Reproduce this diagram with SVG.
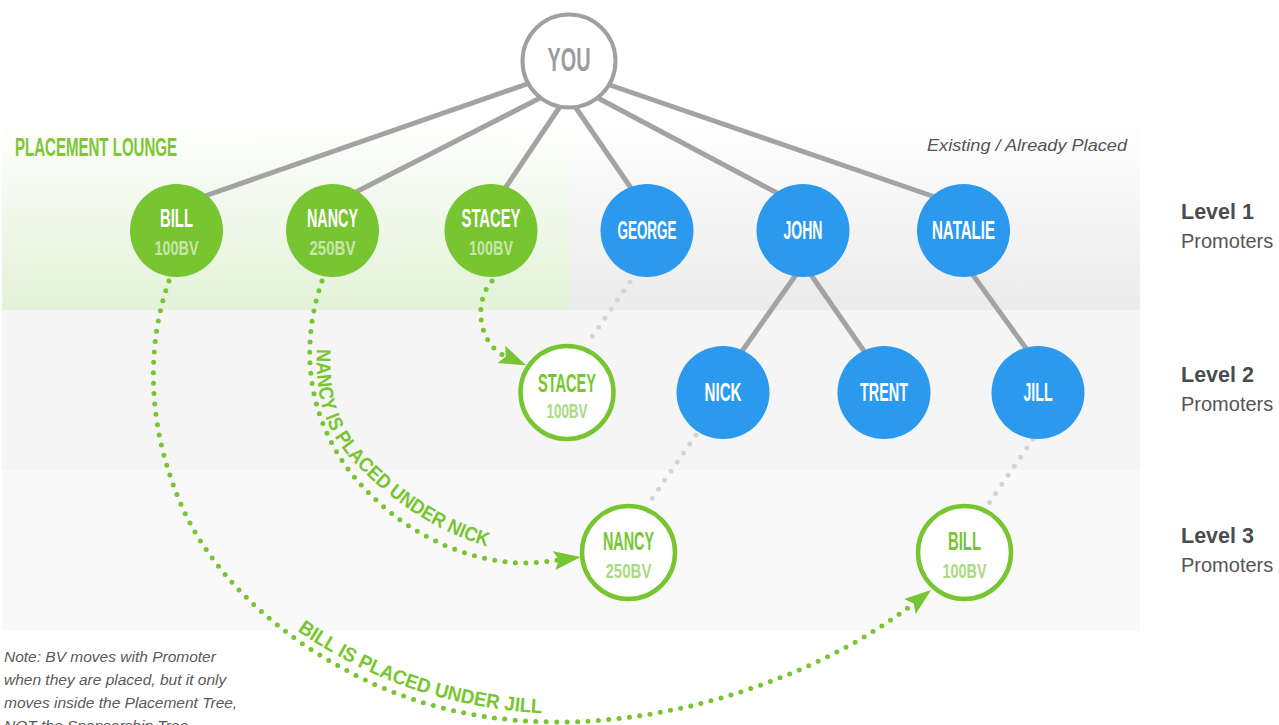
<svg xmlns="http://www.w3.org/2000/svg" width="1279" height="725" viewBox="0 0 1279 725">
<defs>
<linearGradient id="gGrey" x1="0" y1="0" x2="0" y2="1"><stop offset="0" stop-color="#ffffff"/><stop offset="1" stop-color="#ebebeb"/></linearGradient>
<linearGradient id="gGreen" x1="0" y1="0" x2="0" y2="1"><stop offset="0" stop-color="#ffffff"/><stop offset="1" stop-color="#e3f2d8"/></linearGradient>
<marker id="arrow" markerUnits="userSpaceOnUse" viewBox="0 0 30 22" markerWidth="30" markerHeight="22" refX="4" refY="11" orient="auto"><path d="M27,11 L0,1.5 L5,11 L0,20.5 Z" fill="#77c531"/></marker>
<path id="tpNancy" d="M318,330 C313,385 320,425 352,460 C392,503 440,535 500,550"/>
<path id="tpBill" d="M285,622 C360,677 447,711 560,714"/>
</defs>
<style>
.solid{stroke:#a3a3a3;stroke-width:5;fill:none}
.gdot{stroke:#d4d4d4;stroke-width:5;stroke-dasharray:0 11;stroke-linecap:round;fill:none}
.adot{stroke:#77c531;stroke-width:5;stroke-dasharray:0 10.4;stroke-linecap:round;fill:none;marker-end:url(#arrow)}
.fg{fill:#77c531}
.fb{fill:#2b9aee}
.ring{fill:#fff;stroke:#77c531;stroke-width:4.5}
.nm{font-family:"Liberation Sans Narrow","Liberation Sans",sans-serif;font-weight:bold;font-size:25px;text-anchor:middle}
.bv{font-family:"Liberation Sans Narrow","Liberation Sans",sans-serif;font-weight:bold;font-size:20.5px;text-anchor:middle}
.w{fill:#ffffff}
.lg{fill:#c6e7a9}
.g{fill:#77c531}
.lg2{fill:#a9da82}
.lvl{font-family:"Liberation Sans",Arial,sans-serif;font-weight:bold;font-size:21.5px;fill:#4a4c50}
.pro{font-family:"Liberation Sans",Arial,sans-serif;font-size:20px;fill:#555555}
.note{font-family:"Liberation Sans",Arial,sans-serif;font-style:italic;font-size:15.5px;fill:#5a5a5a}
.path-label{font-family:"Liberation Sans",Arial,sans-serif;font-weight:bold;font-size:20px;fill:#77c531}
</style>

<!-- bands -->
<g id="bands">
<rect x="570" y="115" width="570" height="195" fill="url(#gGrey)"/>
<rect x="2" y="115" width="568" height="195" fill="url(#gGreen)"/>
<rect x="2" y="310" width="1138" height="160" fill="#f5f5f5"/>
<rect x="2" y="470" width="1138" height="161" fill="#f9f9f9"/>
</g>

<!-- labels -->
<g id="labels">
<text x="15" y="156" textLength="162" lengthAdjust="spacingAndGlyphs" style="font-family:'Liberation Sans Narrow','Liberation Sans',sans-serif;font-weight:bold;font-size:25.5px;fill:#7dc734">PLACEMENT LOUNGE</text>
<text x="927" y="151" textLength="200" lengthAdjust="spacingAndGlyphs" style="font-family:'Liberation Sans',Arial,sans-serif;font-style:italic;font-size:17px;fill:#555555">Existing / Already Placed</text>
<text class="lvl" x="1181" y="219">Level 1</text>
<text class="pro" x="1181" y="248">Promoters</text>
<text class="lvl" x="1181" y="382">Level 2</text>
<text class="pro" x="1181" y="411">Promoters</text>
<text class="lvl" x="1181" y="543">Level 3</text>
<text class="pro" x="1181" y="572">Promoters</text>
<text class="note" x="4" y="662">Note: BV moves with Promoter</text>
<text class="note" x="4" y="685">when they are placed, but it only</text>
<text class="note" x="4" y="708">moves inside the Placement Tree,</text>
<text class="note" x="4" y="731">NOT the Sponsorship Tree.</text>
</g>

<!-- connectors -->
<g id="connectors">
<line class="solid" x1="530" y1="83" x2="202" y2="197"/>
<line class="solid" x1="543" y1="96.5" x2="355" y2="192.5"/>
<line class="solid" x1="561" y1="105" x2="504" y2="190"/>
<line class="solid" x1="574" y1="105" x2="633" y2="191"/>
<line class="solid" x1="596" y1="97" x2="779" y2="194"/>
<line class="solid" x1="607" y1="84" x2="935" y2="197"/>
<line class="solid" x1="798" y1="272" x2="740" y2="354"/>
<line class="solid" x1="809" y1="272" x2="866" y2="354"/>
<line class="solid" x1="970" y1="271" x2="1028" y2="351"/>
<line class="gdot" x1="630" y1="282" x2="587" y2="344"/>
<line class="gdot" x1="696" y1="435" x2="647" y2="506"/>
<line class="gdot" x1="1033" y1="439" x2="989" y2="503"/>
<path class="adot" d="M492,281 C472,304 480,345 505,356"/>
<path class="adot" d="M322,281 C305,330 300,400 345,465 C385,520 450,560 520,563 C535,563 547,561.5 558,560"/>
<path class="adot" d="M169,281 C148,340 145,420 180,502 C200,550 240,600 300,642 C370,690 450,722 560,722 C680,722 820,676 913,604"/>
<text class="path-label"><textPath href="#tpNancy" startOffset="19" textLength="282" lengthAdjust="spacingAndGlyphs">NANCY IS PLACED UNDER NICK</textPath></text>
<text class="path-label"><textPath href="#tpBill" startOffset="15" textLength="262" lengthAdjust="spacingAndGlyphs">BILL IS PLACED UNDER JILL</textPath></text>
</g>

<!-- nodes -->
<g id="node-you">
<circle cx="569" cy="61" r="46.5" fill="#ffffff" stroke="#a0a0a0" stroke-width="4"/>
<text class="nm" x="569" y="71" textLength="43" lengthAdjust="spacingAndGlyphs" style="font-size:34px;fill:#9c9c9c">YOU</text>
</g>
<g id="node-bill">
<circle class="fg" cx="176.5" cy="230.5" r="46.5"/>
<text class="nm w" x="176.5" y="227" textLength="33" lengthAdjust="spacingAndGlyphs">BILL</text>
<text class="bv lg" x="176.5" y="255" textLength="44" lengthAdjust="spacingAndGlyphs">100BV</text>
</g>
<g id="node-nancy">
<circle class="fg" cx="332.5" cy="230.5" r="46.5"/>
<text class="nm w" x="332.5" y="227" textLength="51" lengthAdjust="spacingAndGlyphs">NANCY</text>
<text class="bv lg" x="332.5" y="255" textLength="46" lengthAdjust="spacingAndGlyphs">250BV</text>
</g>
<g id="node-stacey">
<circle class="fg" cx="491" cy="230.5" r="46.5"/>
<text class="nm w" x="491" y="227" textLength="59" lengthAdjust="spacingAndGlyphs">STACEY</text>
<text class="bv lg" x="491" y="255" textLength="44" lengthAdjust="spacingAndGlyphs">100BV</text>
</g>
<g id="node-george">
<circle class="fb" cx="647" cy="230.5" r="46.5"/>
<text class="nm w" x="647" y="239" textLength="59" lengthAdjust="spacingAndGlyphs">GEORGE</text>
</g>
<g id="node-john">
<circle class="fb" cx="803" cy="230.5" r="46.5"/>
<text class="nm w" x="803" y="239" textLength="39" lengthAdjust="spacingAndGlyphs">JOHN</text>
</g>
<g id="node-natalie">
<circle class="fb" cx="963.5" cy="230.5" r="46.5"/>
<text class="nm w" x="963.5" y="239" textLength="63" lengthAdjust="spacingAndGlyphs">NATALIE</text>
</g>
<g id="node-stacey-placed">
<circle class="ring" cx="567" cy="392.5" r="46.5"/>
<text class="nm g" x="567" y="392" textLength="58" lengthAdjust="spacingAndGlyphs">STACEY</text>
<text class="bv lg2" x="567" y="418" textLength="41" lengthAdjust="spacingAndGlyphs">100BV</text>
</g>
<g id="node-nick">
<circle class="fb" cx="723" cy="392.5" r="46.5"/>
<text class="nm w" x="723" y="401" textLength="37" lengthAdjust="spacingAndGlyphs">NICK</text>
</g>
<g id="node-trent">
<circle class="fb" cx="884" cy="392.5" r="46.5"/>
<text class="nm w" x="884" y="401" textLength="48" lengthAdjust="spacingAndGlyphs">TRENT</text>
</g>
<g id="node-jill">
<circle class="fb" cx="1038" cy="392.5" r="46.5"/>
<text class="nm w" x="1038" y="401" textLength="29" lengthAdjust="spacingAndGlyphs">JILL</text>
</g>
<g id="node-nancy-placed">
<circle class="ring" cx="628.5" cy="552.5" r="46.5"/>
<text class="nm g" x="628.5" y="549.5" textLength="51" lengthAdjust="spacingAndGlyphs">NANCY</text>
<text class="bv lg2" x="628.5" y="577.5" textLength="46" lengthAdjust="spacingAndGlyphs">250BV</text>
</g>
<g id="node-bill-placed">
<circle class="ring" cx="964.5" cy="552.5" r="46.5"/>
<text class="nm g" x="964.5" y="549.5" textLength="33" lengthAdjust="spacingAndGlyphs">BILL</text>
<text class="bv lg2" x="964.5" y="577.5" textLength="44" lengthAdjust="spacingAndGlyphs">100BV</text>
</g>
</svg>
